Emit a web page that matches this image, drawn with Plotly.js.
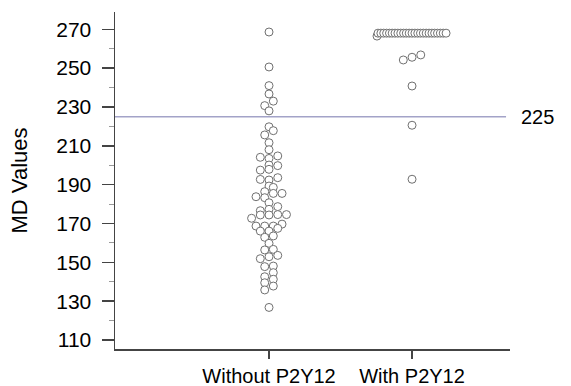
<!DOCTYPE html>
<html>
<head>
<meta charset="utf-8">
<script src="https://cdn.plot.ly/plotly-3.0.1.min.js"></script>
<style>html,body{margin:0;padding:0;background:#fff;}#chart{width:571px;height:386px;}</style>
</head>
<body>
<div id="chart"></div>
<script>
// Categories
var categories = ["Without P2Y12", "With P2Y12"];
var threshold = 225;

// Group 1: Without P2Y12 — MD values and horizontal swarm offsets (x units)
var withoutValues = [268.6, 250.6, 241, 236.7, 233, 230.7, 228,
  219.8, 217.8, 215.6, 211.6, 208,
  204.1, 203.5, 204.8, 200.1, 199.8, 197.5, 197.9,
  192.7, 192.4, 193.6, 189.3, 188.6,
  186.4, 185.5, 185.5, 183.8, 183.3, 180.7,
  176.6, 177.3, 178.7, 174.4, 174.4, 174.6, 174.6, 172.7,
  168.7, 168.7, 168.7, 169.7, 166.1, 166.1, 167.5,
  162.9, 163.6, 159.8, 156.4, 156.7,
  151.9, 152.9, 153.6, 147.8, 148.1,
  144.7, 142.6, 141.3, 139.5, 137.8, 135.8, 126.8];
var withoutOffsets = [0, 0, 0, 0, 0.030, -0.030, 0,
  0, 0.030, -0.030, 0, 0,
  -0.061, 0, 0.061, 0, 0.061, -0.061, 0,
  -0.061, 0, 0.061, 0, 0.030,
  -0.030, 0.030, 0.091, -0.091, -0.030, 0,
  -0.061, 0, 0.061, -0.061, 0, 0.061, 0.122, -0.122,
  -0.091, -0.030, 0.030, 0.091, -0.061, 0, 0.061,
  -0.030, 0.030, 0, -0.030, 0.030,
  -0.061, 0, 0.061, -0.030, 0.030,
  0.030, -0.030, 0.030, -0.030, 0.030, -0.030, 0];

// Group 2: With P2Y12
var withValues = [266.5,
  268, 268, 268, 268, 268, 268, 268, 268, 268, 268, 268, 268, 268,
  268, 268, 268, 268, 268, 268, 268, 268, 268, 268, 268, 268,
  254.2, 255.6, 256.8, 240.8, 220.6, 192.8];
var withOffsets = [-0.245,
  -0.238, -0.218, -0.198, -0.178, -0.158, -0.139, -0.119, -0.099, -0.079, -0.059, -0.040, -0.020, 0,
  0.020, 0.040, 0.059, 0.079, 0.099, 0.119, 0.139, 0.158, 0.178, 0.198, 0.218, 0.238,
  -0.061, 0, 0.061, 0, 0, 0];

// Y-axis ticks
var yTickVals = [110, 130, 150, 170, 190, 210, 230, 250, 270];

function place(groupIndex, offsets) {
  return offsets.map(function (o) { return groupIndex + o; });
}

var markerStyle = {
  symbol: "circle",
  size: 8,
  color: "#ffffff",
  line: { color: "#707070", width: 1 }
};

var traces = [
  {
    type: "scatter", mode: "markers",
    x: place(0, withoutOffsets), y: withoutValues,
    marker: markerStyle, name: categories[0], hoverinfo: "y"
  },
  {
    type: "scatter", mode: "markers",
    x: place(1, withOffsets), y: withValues,
    marker: markerStyle, name: categories[1], hoverinfo: "y"
  }
];

var FONT = "Liberation Sans, Arial, sans-serif";

var layout = {
  width: 571, height: 386,
  margin: { l: 115, r: 61, t: 12, b: 37, pad: 0 },
  paper_bgcolor: "#ffffff",
  plot_bgcolor: "#ffffff",
  showlegend: false,
  font: { family: FONT, color: "#000000", size: 20 },
  xaxis: {
    range: [-1.077, 1.685],
    tickvals: [0, 1],
    ticktext: categories,
    ticks: "outside", ticklen: 8, tickwidth: 1.5, tickcolor: "#444",
    showline: true, linecolor: "#444", linewidth: 1.5,
    showgrid: false, zeroline: false,
    tickfont: { family: FONT, size: 20, color: "#000" }
  },
  yaxis: {
    range: [105.4, 278.9],
    tickvals: yTickVals,
    ticks: "outside", ticklen: 12, tickwidth: 1.5, tickcolor: "#444",
    minor: { dtick: 10, tick0: 100, ticks: "outside", ticklen: 5, tickwidth: 1, tickcolor: "#999" },
    ticklabelstandoff: 6,
    showline: true, linecolor: "#444", linewidth: 1.5,
    showgrid: false, zeroline: false,
    tickfont: { family: FONT, size: 21, color: "#000" },
    title: { text: "MD Values", font: { family: FONT, size: 22, color: "#000" }, standoff: 22 }
  },
  shapes: [
    {
      type: "line", xref: "paper", yref: "y",
      x0: 0, x1: 0.99, y0: threshold, y1: threshold,
      line: { color: "#a3a3c8", width: 1.5 }
    }
  ],
  annotations: [
    {
      xref: "paper", yref: "y", x: 1.07, y: threshold,
      text: String(threshold), showarrow: false,
      xanchor: "center", yanchor: "middle",
      font: { family: FONT, size: 20, color: "#000" }
    }
  ]
};

Plotly.newPlot("chart", traces, layout, { displayModeBar: false, staticPlot: true });
</script>
</body>
</html>
